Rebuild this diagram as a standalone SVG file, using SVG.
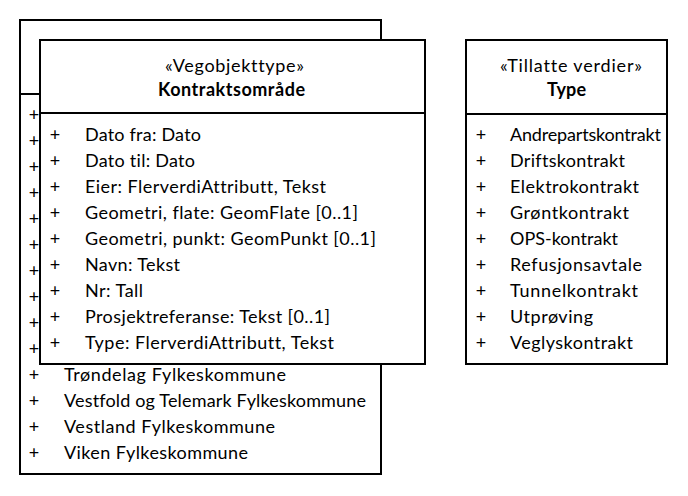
<svg xmlns="http://www.w3.org/2000/svg" width="688" height="496" viewBox="0 0 688 496">
  <style>
    .box { fill: #ffffff; stroke: #000000; stroke-width: 2; }
    .sep { stroke: #000000; stroke-width: 2; }
    text { font-family: "Lato", "Open Sans", "Liberation Sans", sans-serif; font-size: 18px; fill: #000000; font-variant-ligatures: none; }
    .c { text-anchor: middle; }
    .b { font-weight: bold; }
    .p { text-anchor: middle; }
  </style>

  <!-- Enumeration partly hidden behind the class -->
  <g id="enum-fylkeskommune">
    <rect class="box" x="20" y="20" width="361" height="454"/>
    <line class="sep" x1="20" y1="94" x2="381" y2="94"/>
    <text class="c" x="200" y="52">«Tillatte verdier»</text>
    <g>
      <text class="p" x="34" y="121">+</text>
      <text class="p" x="34" y="147">+</text>
      <text class="p" x="34" y="173">+</text>
      <text class="p" x="34" y="199">+</text>
      <text class="p" x="34" y="225">+</text>
      <text class="p" x="34" y="251">+</text>
      <text class="p" x="34" y="277">+</text>
      <text class="p" x="34" y="303">+</text>
      <text class="p" x="34" y="329">+</text>
      <text class="p" x="34" y="355">+</text>
      <text class="p" x="34" y="381">+</text>
      <text class="p" x="34" y="407">+</text>
      <text class="p" x="34" y="433">+</text>
      <text class="p" x="34" y="459">+</text>
    </g>
    <text x="64" y="381" textLength="222">Trøndelag Fylkeskommune</text>
    <text x="64" y="407" textLength="302">Vestfold og Telemark Fylkeskommune</text>
    <text x="64" y="433" textLength="211">Vestland Fylkeskommune</text>
    <text x="64" y="459" textLength="184">Viken Fylkeskommune</text>
  </g>

  <!-- Class Kontraktsområde -->
  <g id="class-kontraktsomrade">
    <rect class="box" x="40" y="40" width="385" height="324"/>
    <line class="sep" x1="40" y1="113" x2="425" y2="113"/>
    <text x="165" y="72" textLength="139">«Vegobjekttype»</text>
    <text class="b" x="158" y="96" textLength="147">Kontraktsområde</text>
    <g>
      <text class="p" x="55" y="141">+</text>
      <text class="p" x="55" y="167">+</text>
      <text class="p" x="55" y="193">+</text>
      <text class="p" x="55" y="219">+</text>
      <text class="p" x="55" y="245">+</text>
      <text class="p" x="55" y="271">+</text>
      <text class="p" x="55" y="297">+</text>
      <text class="p" x="55" y="323">+</text>
      <text class="p" x="55" y="349">+</text>
    </g>
    <text x="85" y="141" textLength="116">Dato fra: Dato</text>
    <text x="85" y="167" textLength="110">Dato til: Dato</text>
    <text x="85" y="193" textLength="241">Eier: FlerverdiAttributt, Tekst</text>
    <text x="85" y="219" textLength="273">Geometri, flate: GeomFlate [0..1]</text>
    <text x="85" y="245" textLength="291">Geometri, punkt: GeomPunkt [0..1]</text>
    <text x="85" y="271" textLength="95">Navn: Tekst</text>
    <text x="85" y="297" textLength="58">Nr: Tall</text>
    <text x="85" y="323" textLength="245">Prosjektreferanse: Tekst [0..1]</text>
    <text x="85" y="349" textLength="249">Type: FlerverdiAttributt, Tekst</text>
  </g>

  <!-- Enumeration Type -->
  <g id="enum-type">
    <rect class="box" x="466" y="40" width="201" height="324"/>
    <line class="sep" x1="466" y1="114" x2="667" y2="114"/>
    <text x="500" y="72" textLength="142">«Tillatte verdier»</text>
    <text class="b" x="547" y="96" textLength="39">Type</text>
    <g>
      <text class="p" x="481" y="141">+</text>
      <text class="p" x="481" y="167">+</text>
      <text class="p" x="481" y="193">+</text>
      <text class="p" x="481" y="219">+</text>
      <text class="p" x="481" y="245">+</text>
      <text class="p" x="481" y="271">+</text>
      <text class="p" x="481" y="297">+</text>
      <text class="p" x="481" y="323">+</text>
      <text class="p" x="481" y="349">+</text>
    </g>
    <text x="510" y="141" textLength="151">Andrepartskontrakt</text>
    <text x="510" y="167" textLength="115">Driftskontrakt</text>
    <text x="510" y="193" textLength="129">Elektrokontrakt</text>
    <text x="510" y="219" textLength="119">Grøntkontrakt</text>
    <text x="510" y="245" textLength="108">OPS-kontrakt</text>
    <text x="510" y="271" textLength="132">Refusjonsavtale</text>
    <text x="510" y="297" textLength="128">Tunnelkontrakt</text>
    <text x="510" y="323" textLength="83">Utprøving</text>
    <text x="510" y="349" textLength="123">Veglyskontrakt</text>
  </g>

  <!-- No associations are drawn between these elements -->
  <g id="connectors"/>
</svg>
